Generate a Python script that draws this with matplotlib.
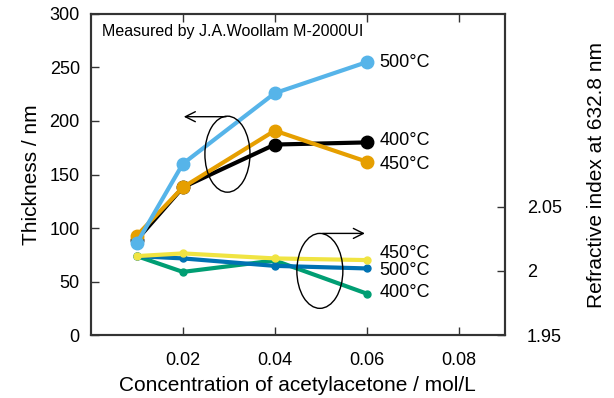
import matplotlib
matplotlib.use("Agg")
import matplotlib.pyplot as plt
from matplotlib.patches import Ellipse

plt.rcParams['font.family'] = ['Liberation Sans', 'DejaVu Sans']

conc = [0.01, 0.02, 0.04, 0.06]
thick_500 = [86, 160, 226, 255]
thick_400 = [89, 138, 178, 180]
thick_450 = [93, 138, 191, 162]
ri_450 = [2.0115, 2.0136, 2.0097, 2.0084]
ri_500 = [2.0115, 2.0097, 2.0039, 2.0019]
ri_400 = [2.0115, 1.9992, 2.0081, 1.9823]
x_ticks = [0.02, 0.04, 0.06, 0.08]
left_ticks = [0, 50, 100, 150, 200, 250, 300]
right_ticks = [1.95, 2.0, 2.05]
right_ticklabels = ['1.95', '2', '2.05']

c_sky = '#56B4E9'
c_black = '#000000'
c_orange = '#E69F00'
c_yellow = '#F0E442'
c_blue = '#0072B2'
c_green = '#009E73'

fig = plt.figure(figsize=(6.14, 3.98), dpi=100)
ax = fig.add_axes([0.148, 0.158, 0.674, 0.807])
ax2 = ax.twinx()

ax.set_xlim(0, 0.09)
ax.set_ylim(0, 300)
ax2.set_ylim(1.95, 2.2)

lw = 3
ax2.plot(conc, ri_400, '-o', color=c_green, lw=lw, ms=5, zorder=3)
ax2.plot(conc, ri_500, '-o', color=c_blue, lw=lw, ms=5, zorder=4)
ax2.plot(conc, ri_450, '-o', color=c_yellow, lw=lw, ms=5, zorder=5)

ax.set_zorder(ax2.get_zorder() + 1)
ax.patch.set_visible(False)

ax.plot(conc, thick_400, '-o', color=c_black, lw=lw, ms=9, zorder=3)
ax.plot(conc, thick_450, '-o', color=c_orange, lw=lw, ms=9, zorder=4)
ax.plot(conc, thick_500, '-o', color=c_sky, lw=lw, ms=9, zorder=5)

ax.set_xticks(x_ticks)
ax.set_xticklabels([f'{v:.2f}' for v in x_ticks])
ax.set_yticks(left_ticks)
ax2.set_yticks(right_ticks)
ax2.set_yticklabels(right_ticklabels)

ax.tick_params(axis='both', direction='in', length=6, width=1, labelsize=13,
               top=True, right=False, pad=8, colors='#333333', labelcolor='black')
ax.tick_params(axis='x', pad=12)
ax2.tick_params(axis='y', direction='in', length=6, width=1, labelsize=13, pad=16,
                colors='#333333', labelcolor='black')
for a in (ax, ax2):
    for s in a.spines.values():
        s.set_linewidth(1.5)
        s.set_color('#333333')

ax.set_xlabel('Concentration of acetylacetone / mol/L', fontsize=15, labelpad=5)
ax.set_ylabel('Thickness / nm', fontsize=15, labelpad=6)
ax2.set_ylabel('Refractive index at 632.8 nm', fontsize=15, labelpad=18)

ax.text(0.0024, 284, 'Measured by J.A.Woollam M-2000UI', fontsize=11.5, va='center')

fs = 13
ax.text(0.0628, 255, '500°C', fontsize=fs, va='center')
ax.text(0.0628, 182, '400°C', fontsize=fs, va='center')
ax.text(0.0628, 159, '450°C', fontsize=fs, va='center')
ax.text(0.0628, 76, '450°C', fontsize=fs, va='center')
ax.text(0.0628, 60, '500°C', fontsize=fs, va='center')
ax.text(0.0628, 40, '400°C', fontsize=fs, va='center')

ax.add_patch(Ellipse((0.0297, 169), 0.0098, 71, fill=False, lw=1, ec='black', zorder=6))
ax.annotate('', xy=(0.0196, 204), xytext=(0.0300, 204),
            arrowprops=dict(arrowstyle='->', lw=1, color='black', mutation_scale=18), zorder=6)
ax.add_patch(Ellipse((0.0498, 60), 0.0100, 70, fill=False, lw=1, ec='black', zorder=6))
ax.annotate('', xy=(0.0602, 95), xytext=(0.0498, 95),
            arrowprops=dict(arrowstyle='->', lw=1, color='black', mutation_scale=18), zorder=6)

fig.savefig('out.png', dpi=100)
